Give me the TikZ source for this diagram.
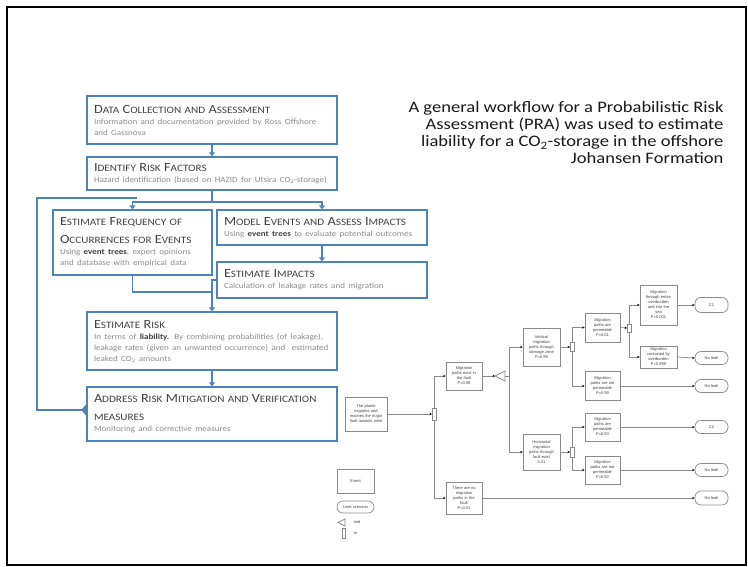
\documentclass[tikz,border=0pt]{standalone}
\usepackage{fontspec}
\setmainfont{Carlito}[FakeStretch=1.14]
\newfontfamily\rfont{Carlito}[FakeStretch=1.16]
\newfontfamily\arialf{Liberation Sans}
\usetikzlibrary{arrows.meta,calc}
\definecolor{wblue}{HTML}{4F81BD}
\definecolor{ttl}{HTML}{404040}
\definecolor{dsc}{HTML}{8C8C8C}
\definecolor{eg}{HTML}{8A8A8A}
\newcommand\Tc[1]{{\fontsize{12.5}{14}\selectfont #1}}
\newcommand\ttlfont{\fontsize{9.8}{18}\selectfont\color{ttl}}
\newcommand\dscfont{\fontsize{7.9}{11}\selectfont\color{dsc}}
\newcommand\bt[1]{{\bfseries\color{ttl}#1}}
\begin{document}
\begin{tikzpicture}[x=1pt,y=-1pt,
 wbox/.style={draw=wblue,line width=1.3pt,fill=white,inner xsep=7pt,inner ysep=2pt,align=left},
 warrow/.style={draw=wblue,line width=1.3pt,-{Triangle[length=4pt,width=6pt]}},
 wline/.style={draw=wblue,line width=1.3pt},
 ebox/.style={draw=eg,line width=0.7pt,fill=white,inner xsep=1pt,inner ysep=1pt,align=center,font=\arialf\fontsize{4}{5}\selectfont,text=black!75},
 eterm/.style={ebox,rounded corners=6pt},
 eline/.style={draw=eg,line width=0.7pt},
 earrow/.style={eline,-{Stealth[length=2.5pt,width=2.4pt,black]}},
 gate/.style={draw=eg,line width=0.5pt,fill=white,inner sep=0pt,minimum width=3.5pt},
 rtext/.style={align=right,font=\rfont\fontsize{16}{17}\selectfont,text=black!90},
]
\useasboundingbox (0,0) rectangle (748,566);
\draw[line width=1.8pt,black] (7,7) rectangle (746,565);

% ---------------- workflow ----------------
\node[wbox,text width=236pt,minimum height=48pt] (data) at (212,120)
 {{\ttlfont \Tc{D}ATA \Tc{C}OLLECTION AND \Tc{A}SSESSMENT\par}{\dscfont Information and documentation provided by Ross Offshore\\and Gassnova\par}};
\node[wbox,text width=236pt,minimum height=33pt] (ident) at (212,173.5)
 {{\ttlfont \Tc{I}DENTIFY \Tc{R}ISK \Tc{F}ACTORS\par}{\dscfont Hazard identification (based on HAZID for Utsira CO\textsubscript{2}-storage)\par}};
\node[wbox,text width=145pt,minimum height=65pt] (freq) at (132.5,242.5)
 {{\ttlfont \Tc{E}STIMATE \Tc{F}REQUENCY OF\\\Tc{O}CCURRENCES FOR \Tc{E}VENTS\par}{\dscfont Using \bt{event trees}, expert opinions\\and database with empirical data\par}};
\node[wbox,text width=196pt,minimum height=35pt] (model) at (322,227.5)
 {{\ttlfont \Tc{M}ODEL \Tc{E}VENTS AND \Tc{A}SSESS \Tc{I}MPACTS\par}{\dscfont Using \bt{event trees} to evaluate potential outcomes\par}};
\node[wbox,text width=196pt,minimum height=36pt] (impacts) at (322,280)
 {{\ttlfont \Tc{E}STIMATE \Tc{I}MPACTS\par}{\dscfont Calculation of leakage rates and migration\par}};
\node[wbox,text width=236pt,minimum height=58pt] (risk) at (212,341)
 {{\ttlfont \Tc{E}STIMATE \Tc{R}ISK\par}{\dscfont In terms of \bt{liability.} By combining probabilities (of leakage),\\leakage rates (given an unwanted occurrence) and\ \ estimated\\leaked CO\textsubscript{2} amounts\par}};
\node[wbox,text width=236pt,minimum height=54pt] (addr) at (212,414)
 {{\ttlfont \Tc{A}DDRESS \Tc{R}ISK \Tc{M}ITIGATION AND \Tc{V}ERIFICATION\\MEASURES\par}{\dscfont Monitoring and corrective measures\par}};

\coordinate (split) at (212,202);
\coordinate (loopend) at (137,198);
\coordinate (join) at (212,292);

\draw[warrow] (data.south) -- (ident.north);
\draw[wline] (ident.south) -- (split);
\draw[warrow] (split) -| (freq.north);
\draw[warrow] (split) -| (model.north);
\draw[warrow] (model.south) -- (impacts.north);
\draw[wline] (freq.south) |- (join);
\draw[wline] (impacts.west) -| (join);
\draw[warrow] (join) -- (risk.north);
\draw[warrow] (risk.south) -- (addr.north);
\draw[wline] ($(addr.west)+(0,-4)$) -- (37,410) -- (37,198) -- (loopend);
\fill[wblue] ($(addr.west)+(0,-10)$) -- ($(addr.west)+(-5,-4)$) -- ($(addr.west)+(0,2)$) -- cycle;

% ---------------- right text ----------------
\node[rtext,anchor=north east] (desc) at (727,98)
 {A general workflow for a Probabilistic Risk\\Assessment (PRA) was used to estimate\\liability for a CO\textsubscript{2}-storage in the offshore\\Johansen Formation};

% ---------------- event tree ----------------
\node[ebox,text width=40pt,minimum height=34pt] (e0) at (366,414) {The plume\\migrates and\\reaches the major\\fault towards west};
\node[gate,minimum height=12pt] (or1) at (434,414) {};
\node[ebox,text width=34pt,minimum height=28pt] (e1) at (464,376) {Migration\\paths exist in\\the fault\\P=0.99};
\node[ebox,text width=34pt,minimum height=32pt] (e2) at (464,498) {There are no\\migration\\paths in the\\fault\\P=0.01};
\coordinate (and1w) at (495,376);
\coordinate (and1e) at (505,376);
\node[ebox,text width=35pt,minimum height=38pt] (e3) at (541.5,347) {Vertical\\migration\\paths through\\damage zone\\P=0.99};
\node[ebox,text width=35pt,minimum height=36pt] (e4) at (541.5,452) {Horizontal\\migration\\paths through\\fault exist\\0.01};
\node[gate,minimum height=9pt] (or2) at (572,347) {};
\node[gate,minimum height=10pt] (or4) at (572,452) {};
\node[ebox,text width=33pt,minimum height=29pt] (e5) at (602.5,327.5) {Migration\\paths are\\permeable\\P=0.01};
\node[ebox,text width=33pt,minimum height=29pt] (e6) at (602.5,386) {Migration\\paths are not\\permeable\\P=0.99};
\node[ebox,text width=33pt,minimum height=28pt] (e9) at (602.5,427) {Migration\\paths are\\permeable\\P=0.50};
\node[ebox,text width=33pt,minimum height=28pt] (e10) at (602.5,470) {Migration\\paths are not\\permeable\\P=0.50};
\node[gate,minimum height=8pt] (or3) at (629,328) {};
\node[ebox,text width=35pt,minimum height=40pt] (e7) at (658.5,305) {Migration\\through entire\\overburden\\and into the\\sea\\P=0.001};
\node[ebox,text width=35pt,minimum height=22pt] (e8) at (658.5,357) {Migration\\contained by\\overburden\\P=0.999};
\node[eterm,minimum width=33pt,minimum height=15pt] (t1) at (711.5,305) {C1};
\node[eterm,minimum width=33pt,minimum height=13pt] (t2) at (711.5,358) {No leak};
\node[eterm,minimum width=33pt,minimum height=13pt] (t3) at (711.5,386) {No leak};
\node[eterm,minimum width=33pt,minimum height=13pt] (t4) at (711.5,427) {C2};
\node[eterm,minimum width=33pt,minimum height=13pt] (t5) at (711.5,470) {No leak};
\node[eterm,minimum width=33pt,minimum height=14pt] (t6) at (711.5,498) {No leak};

\draw[eline] (and1w) -- ++(10,-5) -- ++(0,10) -- cycle;

\draw[earrow] (e0.east) -- (or1.west);
\draw[earrow] (or1.north) |- (e1.west);
\draw[earrow] (or1.south) |- (e2.west);
\draw[earrow] (e1.east) -- (and1w);
\draw[eline] (and1e) -- (509,376);
\draw[earrow] (509,376) |- (e3.west);
\draw[earrow] (509,376) |- (e4.west);
\draw[earrow] (e3.east) -- (or2.west);
\draw[earrow] (or2.north) |- (e5.west);
\draw[earrow] (or2.south) |- (e6.west);
\draw[earrow] (e4.east) -- (or4.west);
\draw[earrow] (or4.north) |- (e9.west);
\draw[earrow] (or4.south) |- (e10.west);
\draw[earrow] (e5.east) -- (or3.west);
\draw[earrow] (or3.north) |- (e7.west);
\draw[earrow] (or3.south) |- (e8.west);
\draw[earrow] (e7.east) -- (t1.west);
\draw[earrow] (e8.east) -- (t2.west);
\draw[earrow] (e6.east) -- (t3.west);
\draw[earrow] (e9.east) -- (t4.west);
\draw[earrow] (e10.east) -- (t5.west);
\draw[earrow] (e2.east) -- (t6.west);

% legend
\node[ebox,minimum width=37pt,minimum height=24pt] (lev) at (355.5,481) {Event};
\node[eterm,minimum width=37pt,minimum height=12pt] (lls) at (355.5,507) {Leak scenario};
\coordinate (land) at (338,522.5);
\draw[eline] (land) -- ++(7,-3.5) -- ++(0,7) -- cycle;
\node[font=\arialf\fontsize{4}{5}\selectfont,text=black!75,anchor=west] (landt) at (350,522) {and};
\node[gate,minimum height=10pt,minimum width=3pt] (lor) at (343.5,533) {};
\node[font=\arialf\fontsize{4}{5}\selectfont,text=black!75,anchor=west] (lort) at (350,533) {or};
\end{tikzpicture}
\end{document}
